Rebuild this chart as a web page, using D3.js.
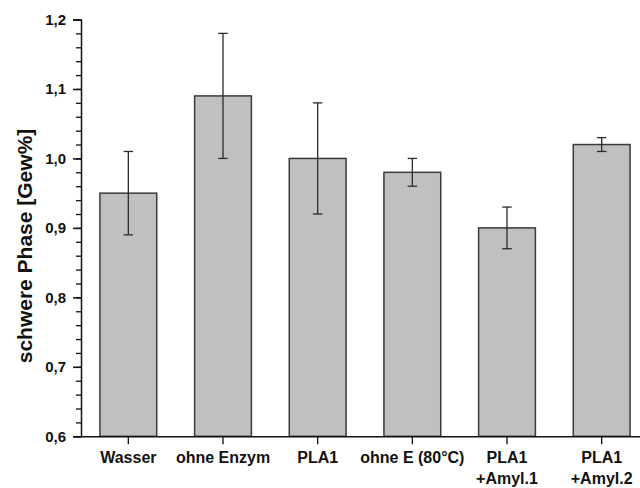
<!DOCTYPE html>
<html>
<head>
<meta charset="utf-8">
<script src="https://cdn.jsdelivr.net/npm/d3@7"></script>
<style>
  body { margin: 0; background: #fff; }
  text { font-family: "Liberation Sans", Arial, sans-serif; font-weight: bold; fill: #111; }
</style>
</head>
<body>
<div id="chart"></div>
<script>
// categories, mean values and errors
var categories = ["Wasser", "ohne Enzym", "PLA1", "ohne E (80°C)", "PLA1\n+Amyl.1", "PLA1\n+Amyl.2"];
var values = [0.95, 1.09, 1.00, 0.98, 0.90, 1.02];
var errors = [0.06, 0.09, 0.08, 0.02, 0.03, 0.01];
var yTicks = [0.6, 0.7, 0.8, 0.9, 1.0, 1.1, 1.2];

var width = 640, height = 488;
var margin = {left: 81, right: -9, top: 19.5, bottom: 51.7};

var svg = d3.select("#chart").append("svg")
    .attr("width", width)
    .attr("height", height);

// scales
var x = d3.scaleBand()
    .domain(categories)
    .range([margin.left, width - margin.right])
    .paddingInner(0.4)
    .paddingOuter(0.2);

var y = d3.scaleLinear()
    .domain([0.6, 1.2])
    .range([height - margin.bottom, margin.top]);

var comma = function(d) { return d3.format(".1f")(d).replace(".", ","); };

// bars
svg.selectAll("rect.bar")
    .data(values)
    .enter().append("rect")
    .attr("class", "bar")
    .attr("x", function(d, i) { return x(categories[i]); })
    .attr("y", function(d) { return y(d); })
    .attr("width", x.bandwidth())
    .attr("height", function(d) { return y(0.6) - y(d); })
    .attr("fill", "#c0c0c0")
    .attr("stroke", "#3a3a3a")
    .attr("stroke-width", 1.5);

// error bars
var err = svg.selectAll("g.err")
    .data(values)
    .enter().append("g")
    .attr("class", "err")
    .attr("stroke", "#2a2a2a")
    .attr("stroke-width", 1.3);

err.append("line")
    .attr("x1", function(d, i) { return x(categories[i]) + x.bandwidth() / 2; })
    .attr("x2", function(d, i) { return x(categories[i]) + x.bandwidth() / 2; })
    .attr("y1", function(d, i) { return y(d - errors[i]); })
    .attr("y2", function(d, i) { return y(d + errors[i]); });

[-1, 1].forEach(function(s) {
    err.append("line")
        .attr("x1", function(d, i) { return x(categories[i]) + x.bandwidth() / 2 - 4.7; })
        .attr("x2", function(d, i) { return x(categories[i]) + x.bandwidth() / 2 + 4.7; })
        .attr("y1", function(d, i) { return y(d + s * errors[i]); })
        .attr("y2", function(d, i) { return y(d + s * errors[i]); });
});

// y axis with minor ticks
var yMinor = d3.range(0, 31).map(function(i) { return 0.6 + i * 0.02; });
svg.append("g")
    .attr("transform", "translate(" + margin.left + ",0)")
    .call(d3.axisLeft(y).tickValues(yMinor).tickSize(5).tickFormat(""))
    .call(function(g) { g.select(".domain").remove(); })
    .selectAll("line").attr("stroke", "#111").attr("stroke-width", 1.3);

var yAxis = svg.append("g")
    .attr("transform", "translate(" + margin.left + ",0)")
    .call(d3.axisLeft(y).tickValues(yTicks).tickSize(8).tickPadding(7).tickFormat(comma));
yAxis.select(".domain").attr("stroke", "#111").attr("stroke-width", 1.5);
yAxis.selectAll("line").attr("stroke", "#111").attr("stroke-width", 1.5);
yAxis.selectAll("text").style("font-size", "15px").attr("fill", "#111");

// x axis
var xAxis = svg.append("g")
    .attr("transform", "translate(0," + y(0.6) + ")")
    .call(d3.axisBottom(x).tickSize(8).tickSizeOuter(0).tickFormat(""));
xAxis.select(".domain").attr("stroke", "#111").attr("stroke-width", 1.5);
xAxis.selectAll("line").attr("stroke", "#111").attr("stroke-width", 1.3);

// category labels (two lines where needed)
xAxis.selectAll(".tick").append("text")
    .attr("text-anchor", "middle")
    .style("font-size", "16px")
    .attr("fill", "#111")
    .selectAll("tspan")
    .data(function(d) { return d.split("\n"); })
    .enter().append("tspan")
    .attr("x", 0)
    .attr("y", function(d, i) { return 27 + i * 21; })
    .text(function(d) { return d; });

// y axis title
svg.append("text")
    .attr("transform", "translate(32," + 246 + ") rotate(-90)")
    .attr("text-anchor", "middle")
    .style("font-size", "21px")
    .text("schwere Phase [Gew%]");
</script>
</body>
</html>
